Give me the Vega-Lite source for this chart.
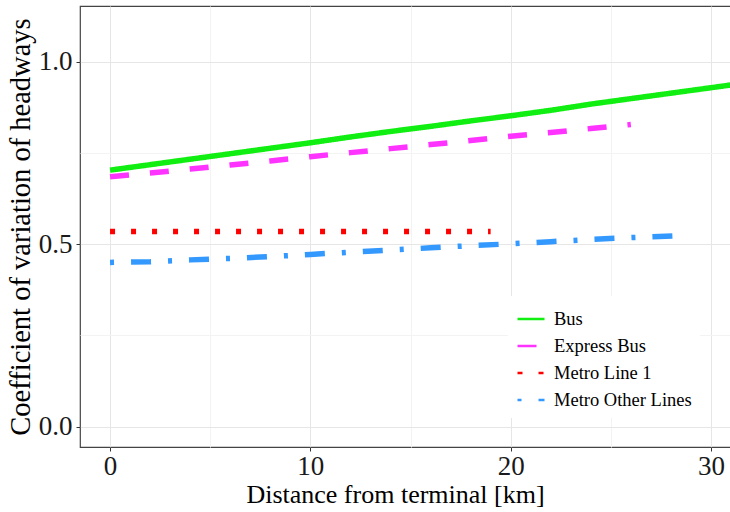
{
  "$schema": "https://vega.github.io/schema/vega-lite/v6.json",
  "width": 660,
  "height": 441,
  "autosize": {"type": "none"},
  "padding": {"left": 80, "top": 6, "right": 0, "bottom": 65},
  "background": "white",
  "config": {
    "view": {"stroke": "#444444", "strokeWidth": 1.2},
    "font": "Liberation Serif"
  },
  "data": {
    "values": [
      {"series": "Bus", "km": 0, "cv": 0.703},
      {"series": "Bus", "km": 2, "cv": 0.718},
      {"series": "Bus", "km": 4, "cv": 0.733},
      {"series": "Bus", "km": 6, "cv": 0.748},
      {"series": "Bus", "km": 8, "cv": 0.763},
      {"series": "Bus", "km": 10, "cv": 0.778},
      {"series": "Bus", "km": 12, "cv": 0.794},
      {"series": "Bus", "km": 14, "cv": 0.809},
      {"series": "Bus", "km": 16, "cv": 0.823},
      {"series": "Bus", "km": 18, "cv": 0.838},
      {"series": "Bus", "km": 20, "cv": 0.852},
      {"series": "Bus", "km": 22, "cv": 0.867},
      {"series": "Bus", "km": 24, "cv": 0.884},
      {"series": "Bus", "km": 26, "cv": 0.899},
      {"series": "Bus", "km": 28, "cv": 0.914},
      {"series": "Bus", "km": 30, "cv": 0.929},
      {"series": "Bus", "km": 32, "cv": 0.944},
      {"series": "Express Bus", "km": 0, "cv": 0.685},
      {"series": "Express Bus", "km": 2, "cv": 0.695},
      {"series": "Express Bus", "km": 4, "cv": 0.706},
      {"series": "Express Bus", "km": 6, "cv": 0.717},
      {"series": "Express Bus", "km": 8, "cv": 0.728},
      {"series": "Express Bus", "km": 10, "cv": 0.740},
      {"series": "Express Bus", "km": 12, "cv": 0.751},
      {"series": "Express Bus", "km": 14, "cv": 0.762},
      {"series": "Express Bus", "km": 16, "cv": 0.773},
      {"series": "Express Bus", "km": 18, "cv": 0.784},
      {"series": "Express Bus", "km": 20, "cv": 0.796},
      {"series": "Express Bus", "km": 22, "cv": 0.806},
      {"series": "Express Bus", "km": 24, "cv": 0.817},
      {"series": "Express Bus", "km": 26, "cv": 0.828},
      {"series": "Metro Line 1", "km": 0, "cv": 0.535},
      {"series": "Metro Line 1", "km": 19, "cv": 0.535},
      {"series": "Metro Other Lines", "km": 0, "cv": 0.450},
      {"series": "Metro Other Lines", "km": 2, "cv": 0.452},
      {"series": "Metro Other Lines", "km": 4, "cv": 0.457},
      {"series": "Metro Other Lines", "km": 6, "cv": 0.461},
      {"series": "Metro Other Lines", "km": 8, "cv": 0.466},
      {"series": "Metro Other Lines", "km": 10, "cv": 0.472},
      {"series": "Metro Other Lines", "km": 12, "cv": 0.478},
      {"series": "Metro Other Lines", "km": 14, "cv": 0.484},
      {"series": "Metro Other Lines", "km": 16, "cv": 0.490},
      {"series": "Metro Other Lines", "km": 18, "cv": 0.496},
      {"series": "Metro Other Lines", "km": 20, "cv": 0.501},
      {"series": "Metro Other Lines", "km": 22, "cv": 0.507},
      {"series": "Metro Other Lines", "km": 24, "cv": 0.513},
      {"series": "Metro Other Lines", "km": 26, "cv": 0.518},
      {"series": "Metro Other Lines", "km": 28.6, "cv": 0.524}
    ]
  },
  "mark": {"type": "line", "strokeWidth": 5.5, "clip": true, "strokeCap": "butt"},
  "encoding": {
    "x": {
      "field": "km", "type": "quantitative",
      "scale": {"domain": [-1.5, 31.45], "nice": false, "zero": false},
      "axis": {
        "title": "Distance from terminal [km]",
        "values": [0, 5, 10, 15, 20, 25, 30],
        "labelExpr": "datum.value % 10 === 0 ? datum.label : ''",
        "domain": false,
        "grid": true,
        "gridColor": {"condition": {"test": "datum.value % 10 !== 0", "value": "#f3f3f3"}, "value": "#e6e6e6"},
        "gridWidth": 1,
        "ticks": true,
        "tickSize": 4,
        "tickColor": {"condition": {"test": "datum.value % 10 !== 0", "value": "transparent"}, "value": "#333333"},
        "labelFont": "Liberation Serif",
        "labelFontSize": 27,
        "labelColor": "#1a1a1a",
        "labelPadding": 2,
        "titleFont": "Liberation Serif",
        "titleFontSize": 26,
        "titleFontWeight": "normal",
        "titleColor": "#000000",
        "titleX": 315,
        "titleAnchor": "middle",
        "titlePadding": 2
      }
    },
    "y": {
      "field": "cv", "type": "quantitative",
      "scale": {"domain": [-0.056, 1.153], "nice": false, "zero": false},
      "axis": {
        "title": "Coefficient of variation of headways",
        "values": [0, 0.25, 0.5, 0.75, 1.0],
        "labelExpr": "(datum.value * 4) % 2 === 0 ? format(datum.value, '.1f') : ''",
        "domain": false,
        "grid": true,
        "gridColor": {"condition": {"test": "(datum.value * 4) % 2 !== 0", "value": "#f3f3f3"}, "value": "#e6e6e6"},
        "gridWidth": 1,
        "tickSize": 4,
        "tickColor": {"condition": {"test": "(datum.value * 4) % 2 !== 0", "value": "transparent"}, "value": "#333333"},
        "labelFont": "Liberation Serif",
        "labelFontSize": 27,
        "labelColor": "#1a1a1a",
        "labelPadding": 4,
        "titleFont": "Liberation Serif",
        "titleFontSize": 28.5,
        "titleFontWeight": "normal",
        "titleColor": "#000000",
        "titlePadding": 3
      }
    },
    "color": {
      "field": "series", "type": "nominal",
      "scale": {"domain": ["Bus", "Express Bus", "Metro Line 1", "Metro Other Lines"], "range": ["#11EE11", "#FF33FF", "#FF0000", "#3399FF"]},
      "legend": {
        "title": null,
        "orient": "none",
        "legendX": 428,
        "legendY": 290,
        "fillColor": "white",
        "padding": 8,
        "symbolType": "stroke",
        "symbolSize": 729,
        "symbolStrokeWidth": 2.5,
        "labelFont": "Liberation Serif",
        "labelFontSize": 18.5,
        "labelColor": "#000000",
        "labelOffset": 8,
        "rowPadding": 2,
        "labelLimit": 300
      }
    },
    "strokeDash": {
      "field": "series", "type": "nominal",
      "scale": {"domain": ["Bus", "Express Bus", "Metro Line 1", "Metro Other Lines"], "range": [[1, 0], [19, 21], [5, 16], [4, 17, 20, 17]]},
      "legend": {
        "title": null,
        "orient": "none",
        "legendX": 428,
        "legendY": 290,
        "fillColor": "white",
        "padding": 8,
        "symbolType": "stroke",
        "symbolSize": 729,
        "symbolStrokeWidth": 2.5,
        "labelFont": "Liberation Serif",
        "labelFontSize": 18.5,
        "labelColor": "#000000",
        "labelOffset": 8,
        "rowPadding": 2,
        "labelLimit": 300
      }
    }
  }
}
